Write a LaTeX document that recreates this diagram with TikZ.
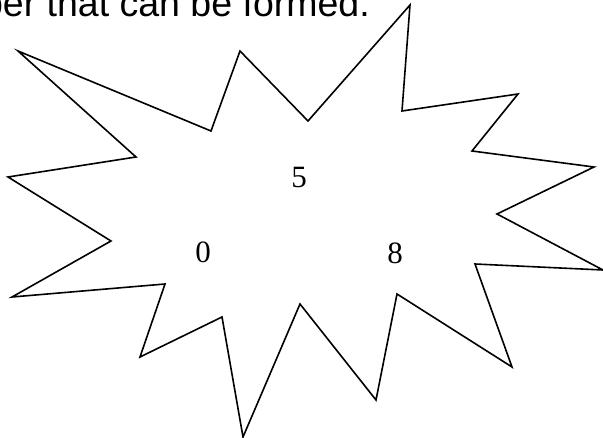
\documentclass[tikz,border=0pt]{standalone}
\usepackage{fontspec}
\setmainfont{Liberation Serif}
\newfontfamily\questfont{Liberation Sans}

\tikzset{
    digit/.style={font=\fontsize{31}{31}\selectfont, inner sep=0pt},
    burst/.style={line width=1.6pt, line join=miter}
}

\begin{document}
\begin{tikzpicture}[x=1pt, y=-1pt]

    % Page size
    \useasboundingbox (0,0) rectangle (603,438);

    % Question text (cut at the top)
    \node[anchor=base east, inner sep=0pt, font=\questfont\fontsize{37.5}{37.5}\selectfont]
        (question) at (370,17) {number that can be formed.};

    % Draw the star burst
    \draw[burst]
        (18,51) -- (136,157) -- (8,177) -- (111,241)
        -- (12,297) -- (165,284) -- (140,357) -- (222,317)
        -- (243,437) -- (300,304) -- (376,400) -- (397,294)
        -- (512,367) -- (475,264) -- (603,270) -- (497,214)
        -- (594,167) -- (472,151) -- (518,94) -- (402,111)
        -- (410,5) -- (308,121) -- (240,51) -- (211,131)
        -- cycle;

    % Digits
    \node[digit] (five)  at (299,178) {5};
    \node[digit] (zero)  at (203,252) {0};
    \node[digit] (eight) at (395,253) {8};

\end{tikzpicture}
\end{document}
